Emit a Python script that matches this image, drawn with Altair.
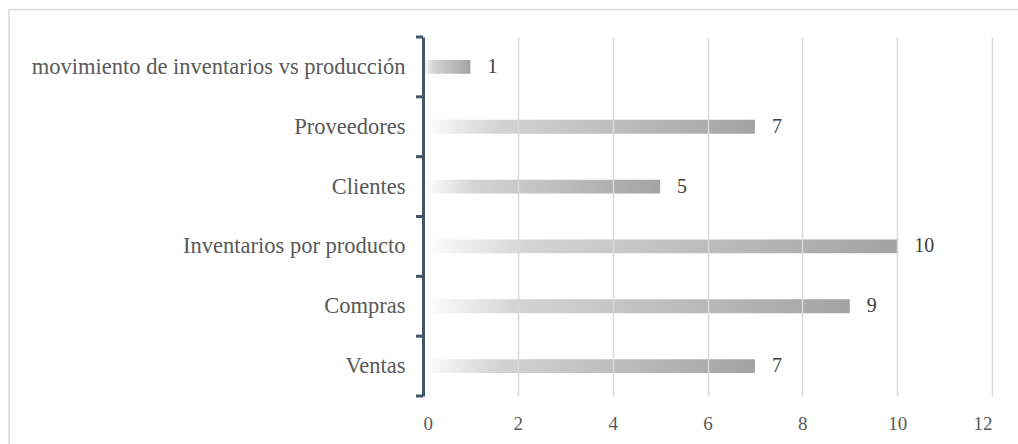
import altair as alt
import pandas as pd

categories = ["movimiento de inventarios vs producción", "Proveedores", "Clientes",
              "Inventarios por producto", "Compras", "Ventas"]
values = [1, 7, 5, 10, 9, 7]
x_ticks = [0, 2, 4, 6, 8, 10, 12]
boundaries = [0, 1, 2, 3, 4, 5, 6]

df = pd.DataFrame({"cat": categories, "val": values})
bdf = pd.DataFrame({"b": boundaries})

FONT = "Liberation Serif"
W, H = 569, 359
PAD_L, PAD_T = 423, 37
NAVY = "#44546a"

gradient = alt.Gradient(
    gradient="linear",
    x1=0, x2=1, y1=0, y2=0,
    stops=[
        alt.GradientStop(color="#ffffff", offset=0),
        alt.GradientStop(color="#d4d4d4", offset=0.22),
        alt.GradientStop(color="#a3a3a3", offset=1),
    ],
)

y_enc = alt.Y(
    "cat:N", sort=categories, title=None,
    scale=alt.Scale(paddingInner=0.77, paddingOuter=0.385),
    axis=alt.Axis(
        domainColor=NAVY, domainWidth=3, ticks=False,
        labelFont=FONT, labelFontSize=22.5, labelColor="#595959", labelPadding=18,
        labelLimit=500, grid=False, zindex=1,
    ),
)
x_enc = alt.X(
    "val:Q", title=None,
    scale=alt.Scale(domain=[0, 12], nice=False),
    axis=alt.Axis(
        values=x_ticks, domain=False, ticks=False, grid=True,
        gridColor="#d9d9d9", gridWidth=1.5,
        labelFont=FONT, labelFontSize=19, labelColor="#595959", labelPadding=18,
        zindex=1,
    ),
)

bars = alt.Chart(df).mark_bar(fill=gradient).encode(x=x_enc, y=y_enc)

labels = alt.Chart(df).mark_text(
    align="left", baseline="middle", dx=17, font=FONT, fontSize=20, color="#404040"
).encode(x="val:Q", y=alt.Y("cat:N", sort=categories), text="val:Q")

ticks = alt.Chart(bdf).mark_rule(color=NAVY, strokeWidth=3).encode(
    x=alt.value(-7), x2=alt.value(0),
    y=alt.Y("b:Q", scale=alt.Scale(domain=[0, 6], nice=False), axis=None),
)

border = alt.Chart(pd.DataFrame({"a": [0]})).mark_rect(
    fill=None, stroke="#d9d9d9", strokeWidth=1.5
).encode(
    x=alt.value(-(PAD_L - 9)), x2=alt.value(W + 80),
    y=alt.value(-(PAD_T - 9.5)), y2=alt.value(H + 80),
)

main = alt.layer(bars, labels)

chart = (
    alt.layer(border, main, ticks)
    .resolve_scale(y="independent")
    .properties(
        width=W, height=H,
        autosize=alt.AutoSizeParams(type="none"),
        padding={"left": PAD_L, "top": PAD_T, "right": 1018 - PAD_L - W, "bottom": 444 - PAD_T - H},
        background="#ffffff",
    )
    .configure_view(stroke=None)
)

chart.save("out.html", embed_options={"renderer": "svg", "actions": False})
